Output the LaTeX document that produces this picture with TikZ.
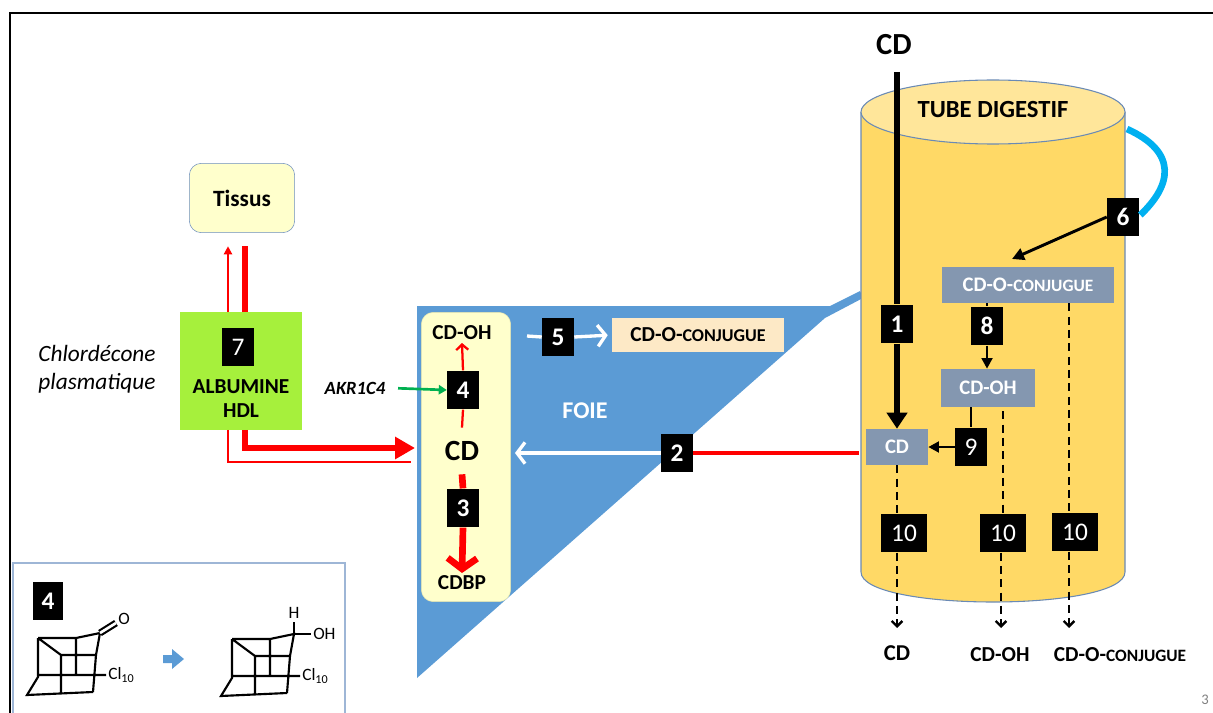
\documentclass[tikz,border=0pt]{standalone}
\usepackage{fontspec}
\setmainfont{Carlito}
\usetikzlibrary{arrows.meta,calc}
\definecolor{liverblue}{HTML}{5B9BD5}
\definecolor{lyellow}{HTML}{FFFFCC}
\definecolor{lyellowb}{HTML}{E4E4B0}
\definecolor{tissb}{HTML}{6C8EBF}
\definecolor{limeg}{HTML}{A6F03C}
\definecolor{peach}{HTML}{FDE9C6}
\definecolor{grayb}{HTML}{8497B0}
\definecolor{tubebody}{HTML}{FFD966}
\definecolor{tubetop}{HTML}{FFE69A}
\definecolor{tubeedge}{HTML}{6A8AB5}
\definecolor{cyanl}{HTML}{00B0F0}
\definecolor{greenl}{HTML}{00B050}
\definecolor{insetb}{HTML}{9EB6D6}
\newcommand\cdoconj[1]{CD-O-{\fontsize{#1}{#1}\selectfont CONJUGUE}}
\tikzset{
 numb/.style={fill=black,text=white,font=\bfseries\fontsize{19}{19}\selectfont,minimum width=24pt,minimum height=29pt,inner sep=0pt},
 numr/.style={numb,font=\fontsize{19}{19}\selectfont},
 wnum/.style={numr,minimum width=34pt},
 gbox/.style={fill=grayb,text=white,font=\bfseries\fontsize{15.5}{16}\selectfont,inner sep=0pt},
 blbl/.style={font=\bfseries\fontsize{16}{16}\selectfont,inner sep=2pt},
 redthin/.style={draw=red,line width=1.7pt},
 redthick/.style={draw=red,line width=5pt},
 dashten/.style={draw=black,line width=1.8pt,dash pattern=on 6pt off 4pt},
 molline/.style={line width=1.6pt},
 moltxt/.style={font=\fontsize{13}{13}\selectfont,inner sep=0pt},
 cagecore/.pic={
   \draw[molline] (0,0)--(38,0)--(62,-5)--(58,17)--(55,54)
     (0,0)--(0,39)--(-11,57)--(55,54)
     (0,0)--(23,17)--(58,17)
     (38,0)--(38,37)
     (23,17)--(23,56)
     (0,37)--(68,37);
   \node[moltxt,anchor=west] at (70,37) {Cl\textsubscript{10}};
 }
}
\begin{document}
\begin{tikzpicture}[x=0.75pt,y=-0.75pt]
\useasboundingbox (0,0) rectangle (1213,713);
\clip (0,0) rectangle (1213,713);
% frame
\draw[line width=1.9pt] (10,720) -- (10,13) -- (1220,13);
% inset
\draw[draw=insetb,line width=0.9pt] (13,563) rectangle (345,720);
\node[numb,minimum width=22.5pt,minimum height=28pt] (b4i) at (48,601) {4};
\pic at (38,638) {cagecore};
\draw[molline,double,double distance=2pt] (100,633)--(116,623);
\node[moltxt] (oxy) at (124,619) {O};
\pic at (232,639) {cagecore};
\draw[molline] (294,634)--(294,622) (294,634)--(311,634);
\node[moltxt] (hyd) at (294,613) {H};
\node[moltxt,anchor=west] (ohx) at (313,634) {OH};
\fill[liverblue] (163,655)--(172,655)--(172,649)--(184,659)--(172,669)--(172,663)--(163,663)--cycle;
% tissus & albumine
\node[draw=tissb,fill=lyellow,rounded corners=9pt,minimum width=79pt,minimum height=52pt,font=\bfseries\fontsize{17.5}{18}\selectfont] (tissus) at (242,198) {Tissus};
\node[fill=limeg,minimum width=91.5pt,minimum height=88pt] (alb) at (241,371) {};
\node[numr] (b7) at (238,347) {7};
\node[blbl] (albt) at (241,387) {ALBUMINE};
\node[blbl] (hdl) at (241,411) {HDL};
\node[font=\itshape\fontsize{17.5}{21}\selectfont,align=center] (plasma) at (97,369) {Chlordécone\\plasmatique};
% liver
\coordinate (lvA) at (417,306);
\coordinate (lvB) at (830,306);
\coordinate (lvC) at (860,291);
\coordinate (lvD) at (863,298);
\coordinate (lvE) at (825,318);
\coordinate (lvF) at (417,678);
\fill[liverblue] (lvA)--(lvB)--(lvC)--(lvD)--(lvE)--(lvF)--cycle;
\node[draw=lyellowb,fill=lyellow,rounded corners=9pt,minimum width=67pt,minimum height=217pt] (lbox) at (466,457) {};
\node[blbl] (cdoh1) at (462,333) {CD-OH};
\node[font=\bfseries\fontsize{22}{22}\selectfont,inner xsep=2pt,inner ysep=10pt] (cd1) at (462,451) {CD};
\node[blbl] (cdbp) at (462,583) {CDBP};
\node[numb] (b4) at (463,390) {4};
\node[numb] (b3) at (463,508) {3};
\node[font=\bfseries\itshape\fontsize{14}{14}\selectfont] (akr) at (355,388) {AKR1C4};
\node[numb] (b5) at (558,337) {5};
\node[fill=peach,minimum width=129pt,minimum height=26pt,inner sep=0pt,font=\bfseries\fontsize{16}{16}\selectfont] (conj1) at (698,335) {\cdoconj{13.5}};
\node[text=white,font=\bfseries\fontsize{18}{18}\selectfont] (foie) at (585,411) {FOIE};
\coordinate (w5) at (527,336);
\coordinate (albL) at (415,448);
\coordinate (albT) at (411,462);
% liver arrows
\draw[redthin] (cd1.north) -- (b4.south);
\draw[redthin,-{Straight Barb[length=4pt,width=9pt]}] (b4.north) -- (cdoh1.south);
\draw[redthick] (cd1.south) -- (b3.north);
\draw[redthick,-{Straight Barb[length=8pt,width=22pt]}] (b3.south) -- (cdbp.north);
\draw[greenl,line width=2pt,shorten <=6pt,-{Triangle[length=6pt,width=7pt]}] (akr.east) -- (b4.west);
\draw[white,line width=2.5pt] (w5) -- (b5.west);
\draw[white,line width=2.5pt,shorten >=3pt,-{Straight Barb[length=6pt,width=16pt]}] (b5.east) -- (conj1.west);
% albumin arrows
\draw[redthin,shorten >=10pt,-{Triangle[length=6pt,width=6pt]}] ($(alb.north)+(-13,0)$) -- ($(tissus.south)+(-14,0)$);
\draw[redthick,shorten >=10pt] ($(alb.north)+(4,0)$) -- ($(tissus.south)+(3,0)$);
\draw[redthick,-{Triangle[length=15pt,width=16pt]}] ($(alb.south)+(4,0)$) |- (albL);
\draw[redthin] ($(alb.south)+(-13,0)$) |- (albT);
% tube
\fill[tubebody] (861,112) -- (861,572) .. controls (861,612) and (1125,612) .. (1125,572) -- (1125,112) -- cycle;
\draw[tubeedge,line width=0.8pt] (861,112) -- (861,572) .. controls (861,612) and (1125,612) .. (1125,572) -- (1125,112);
\filldraw[fill=tubetop,draw=tubeedge,line width=0.8pt] (993,112) ellipse [x radius=132, y radius=32];
\node[font=\bfseries\fontsize{18.5}{19}\selectfont] (tubelbl) at (993,110) {TUBE DIGESTIF};
\node[font=\bfseries\fontsize{23}{23}\selectfont] (cdtop) at (894,45) {CD};
\node[numb] (b1) at (897,324) {1};
\node[gbox,minimum width=46.5pt,minimum height=27pt] (cdg) at (897,447) {CD};
\node[gbox,minimum width=129pt,minimum height=27pt] (conjg) at (1028,285) {\cdoconj{13}};
\node[gbox,minimum width=70.5pt,minimum height=28.5pt] (ohg) at (988,388) {CD-OH};
\node[numb] (b6) at (1123,217) {6};
\node[numb] (b8) at (987,326) {8};
\node[numr] (b9) at (971,447) {9};
\node[numb] (b2) at (677,453) {2};
\node[wnum] (b10a) at (904,533) {10};
\node[wnum] (b10b) at (1003,533) {10};
\node[wnum] (b10c) at (1075,532) {10};
\node[blbl,font=\bfseries\fontsize{17}{17}\selectfont] (lcd) at (897,653) {CD};
\node[blbl] (loh) at (1000,655) {CD-OH};
\node[blbl] (lconj) at (1120,655) {\cdoconj{13}};
\node[text=gray,font=\fontsize{11}{11}\selectfont] (pg) at (1205,700) {3};
\coordinate (t6) at (1012,259);
\coordinate (cyA) at (1127,129);
\coordinate (dx3) at (1069,0);
\coordinate (e1) at (897,628);
\coordinate (e2) at (1001,628);
\coordinate (e3) at (1069,628);
% tube connectors
\draw[cyanl,line width=5pt] (cyA) .. controls (1178,152) and (1172,185) .. ($(b6.east)+(1,-2)$);
\draw[line width=4.5pt,shorten <=9pt] (b1.north |- cdtop.south) -- (b1.north);
\draw[line width=4.5pt,-{Triangle[length=12pt,width=15pt]}] (b1.south) -- (cdg.north);
\draw[line width=2.2pt,-{Triangle[length=9pt,width=9pt]}] (b6.west) -- (t6);
\draw[line width=2pt] (conjg.south -| b8) -- (b8.north);
\draw[line width=2pt,-{Triangle[length=8pt,width=8pt]}] (b8.south) -- (b8.south |- ohg.north);
\draw[line width=2.2pt] (b9.north |- ohg.south) -- (b9.north);
\draw[line width=2.2pt,-{Triangle[length=8pt,width=8pt]}] (b9.west) -- (b9.west -| cdg.east);
\draw[red,line width=3.5pt,shorten >=5pt] (b2.east) -- (b2.east -| cdg.west);
\draw[white,line width=2.5pt,shorten >=3pt,-{Straight Barb[length=6pt,width=16pt]}] (b2.west) -- (b2.west -| lbox.east);
\draw[dashten] (cdg.south) -- (cdg.south |- b10a.north);
\draw[dashten,-{Straight Barb[length=4pt,width=8pt]}] (cdg.south |- b10a.south) -- (e1);
\draw[dashten] ($(b10b.north |- ohg.south)+(0,4)$) -- (b10b.north);
\draw[dashten,-{Straight Barb[length=4pt,width=8pt]}] (b10b.south -| e2) -- (e2);
\draw[dashten] (conjg.south -| dx3) -- (b10c.north -| dx3);
\draw[dashten,-{Straight Barb[length=4pt,width=8pt]}] (b10c.south -| dx3) -- (e3);
\end{tikzpicture}
\end{document}
